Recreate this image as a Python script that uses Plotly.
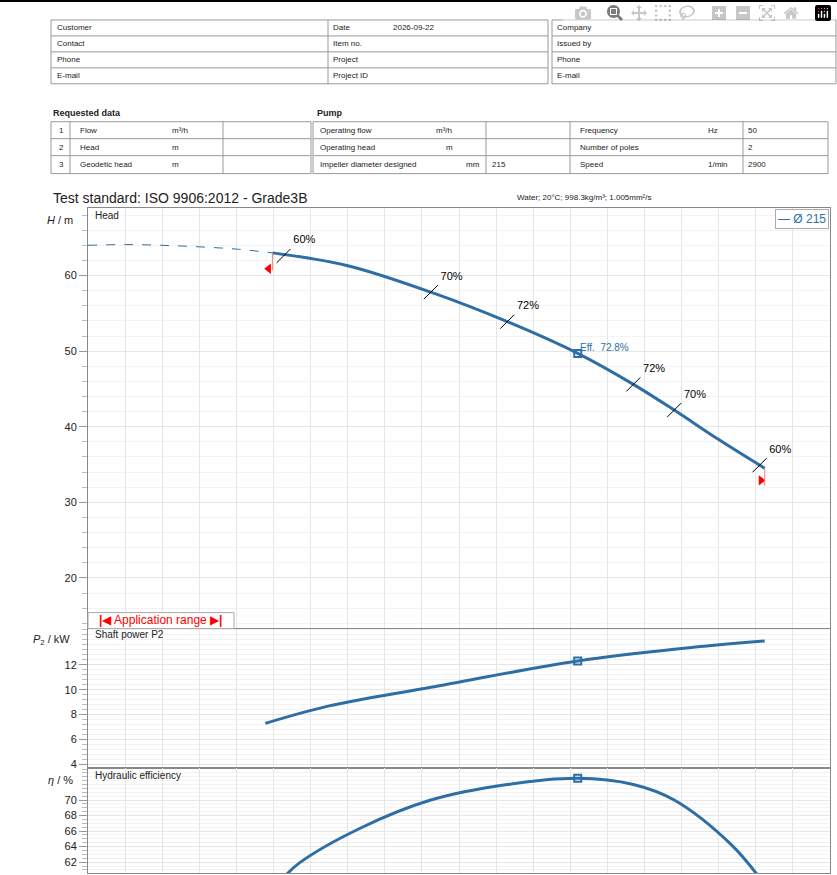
import plotly.graph_objects as go

W, H = 837, 875
BLUE = "#2f6ea5"
GRID = "#e6e6e6"

# curve data (flow in chart units)
flow_head_ext = [0, 1, 2, 3, 4, 4.97]
head_ext = [64.0, 64.1, 64.0, 63.8, 63.5, 63.0]
flow_head = [4.97, 7, 9.24, 11.3, 13.2, 14.7, 15.8, 17, 18.24]
head = [63.0, 61.3, 57.8, 53.9, 49.7, 45.6, 42.2, 38.3, 34.5]
flow_power = [4.78, 6.5, 9.24, 13.2, 16, 18.24]
power = [7.3, 8.7, 10.2, 12.3, 13.3, 13.9]
flow_eff = [5.27, 5.7, 7.35, 9.24, 11.3, 13.2, 14.7, 15.8, 17.35, 18.1]
eff = [60.0, 61.9, 66.4, 70.0, 72.0, 72.8, 72.0, 70.0, 64.2, 60.0]
mark_flow = [5.27, 9.24, 11.3, 14.7, 15.8, 18.1]
mark_head = [62.6, 57.8, 53.9, 45.6, 42.2, 34.9]
mark_labels = ["60%", "70%", "72%", "72%", "70%", "60%"]
bep_flow, bep_head, bep_power, bep_eff = 13.2, 49.7, 12.3, 72.8
range_ends = [(4.97, 63.0), (18.24, 34.5)]
head_ticks = [20, 30, 40, 50, 60]
power_ticks = [4, 6, 8, 10, 12]
eff_ticks = [62, 64, 66, 68, 70]

def px(x):
    return x / W

def py(y):
    return 1 - y / H

fig = go.Figure()

bep_marker = dict(symbol="square-open", size=7, color=BLUE, line=dict(color=BLUE, width=2))
fig.add_trace(go.Scatter(x=flow_head_ext, y=head_ext, mode="lines", line=dict(color=BLUE, width=1, dash="dash", shape="spline"), xaxis="x", yaxis="y"))
fig.add_trace(go.Scatter(x=flow_head, y=head, mode="lines", line=dict(color=BLUE, width=3, shape="spline"), xaxis="x", yaxis="y"))
fig.add_trace(go.Scatter(x=mark_flow, y=mark_head, mode="markers+text", text=mark_labels, textposition="top right",
                         textfont=dict(size=11, color="black"),
                         marker=dict(symbol="line-ne", size=14, line=dict(color="black", width=1)), xaxis="x", yaxis="y"))
fig.add_trace(go.Scatter(x=[bep_flow], y=[bep_head], mode="markers", marker=bep_marker, xaxis="x", yaxis="y"))
fig.add_trace(go.Scatter(x=[range_ends[0][0] - 0.1, range_ends[1][0] - 0.1], y=[60.9, 32.9], mode="markers",
                         marker=dict(symbol=["triangle-left", "triangle-right"], size=9, color="red"), xaxis="x", yaxis="y"))
for fx, fy in range_ends:
    fig.add_trace(go.Scatter(x=[fx, fx], y=[fy, fy - 2.3], mode="lines", line=dict(color="#f08080", width=1), xaxis="x", yaxis="y"))

fig.add_trace(go.Scatter(x=flow_power, y=power, mode="lines", line=dict(color=BLUE, width=3, shape="spline"), xaxis="x2", yaxis="y2"))
fig.add_trace(go.Scatter(x=[bep_flow], y=[bep_power], mode="markers", marker=bep_marker, xaxis="x2", yaxis="y2"))
fig.add_trace(go.Scatter(x=flow_eff, y=eff, mode="lines", line=dict(color=BLUE, width=3, shape="spline"), xaxis="x3", yaxis="y3"))
fig.add_trace(go.Scatter(x=[bep_flow], y=[bep_eff], mode="markers", marker=bep_marker, xaxis="x3", yaxis="y3"))

xdom = [px(88), px(830)]
xax = dict(range=[0, 20], domain=xdom, dtick=1, showticklabels=False, showgrid=True, gridcolor=GRID,
           showline=True, linecolor="#888", mirror=True, zeroline=False, ticks="")
def yax(rng, dom, vals, minor):
    return dict(range=rng, domain=dom, tickmode="array", tickvals=vals, showgrid=True, gridcolor=GRID, zeroline=False,
                showline=True, linecolor="#888", mirror=True, ticks="outside", ticklen=8, tickcolor="#999",
                tickfont=dict(size=11, color="#222"),
                minor=dict(dtick=minor, ticks="outside", ticklen=5, tickcolor="#bbb", showgrid=True, gridcolor="#f3f3f3"))

fig.update_layout(
    width=W, height=H, margin=dict(l=0, r=0, t=0, b=0), showlegend=False,
    plot_bgcolor="white", paper_bgcolor="white", font=dict(family="Liberation Sans, Arial", color="#222"),
    xaxis=dict(xax, anchor="y"), xaxis2=dict(xax, anchor="y2"), xaxis3=dict(xax, anchor="y3"),
    yaxis=dict(yax([13.3, 69], [py(630), py(208)], head_ticks, 2), anchor="x"),
    yaxis2=dict(yax([3.7, 14.9], [py(770), py(630)], power_ticks, 0.4), anchor="x2"),
    yaxis3=dict(yax([60.6, 74.1], [0, py(770)], eff_ticks, 0.5), anchor="x3"),
)

shapes = []
ann = []

def line(x0, y0, x1, y1, color="#999", width=1):
    shapes.append(dict(type="line", xref="paper", yref="paper", x0=px(x0), y0=py(y0), x1=px(x1), y1=py(y1), line=dict(color=color, width=width)))

def text(x, y, t, size=8, **kw):
    ann.append(dict(xref="paper", yref="paper", x=px(x), y=py(y), text=t, showarrow=False, xanchor=kw.pop("xanchor", "left"),
                    yanchor=kw.pop("yanchor", "middle"), font=dict(size=size, color=kw.pop("color", "#222")), **kw))

def grid(cols, rows):
    for r in rows:
        line(cols[0], r, cols[-1], r)
    for c in cols:
        line(c, rows[0], c, rows[-1])

line(0, 1, W, 1, "black", 2)
rows1 = [20, 36, 52, 68, 84]
grid([51, 328, 548], rows1)
grid([552, 836], rows1)
for i, (a, b, c) in enumerate([("Customer", "Date", "Company"), ("Contact", "Item no.", "Issued by"),
                               ("Phone", "Project", "Phone"), ("E-mail", "Project ID", "E-mail")]):
    yc = (rows1[i] + rows1[i + 1]) / 2
    text(55, yc, a); text(331, yc, b); text(555, yc, c)
text(391, 28, "2026-09-22")

text(51, 113, "<b>Requested data</b>", 9)
text(315, 113, "<b>Pump</b>", 9)
rows2 = [122, 139, 156, 174]
grid([51, 70, 223, 311], rows2)
grid([313, 486, 570, 743, 828], rows2)
req = [("1", "Flow", "m³/h"), ("2", "Head", "m"), ("3", "Geodetic head", "m")]
pump = [("Operating flow", "m³/h", "", "Frequency", "Hz", "50"),
        ("Operating head", "m", "", "Number of poles", "", "2"),
        ("Impeller diameter designed", "mm", "215", "Speed", "1/min", "2900")]
for i in range(3):
    yc = (rows2[i] + rows2[i + 1]) / 2
    text(66, yc, req[i][0], xanchor="right"); text(78, yc, req[i][1]); text(170, yc, req[i][2])
    p = pump[i]
    text(318, yc, p[0])
    if i == 2:
        text(482, yc, p[1], xanchor="right")
    else:
        text(434 if i == 0 else 444, yc, p[1])
    text(490, yc, p[2]); text(578, yc, p[3]); text(706, yc, p[4]); text(746, yc, p[5])

text(51, 198, "Test standard: ISO 9906:2012 - Grade3B", 14)
text(515, 198, "Water; 20°C; 998.3kg/m³; 1.005mm²/s", 8)

text(75, 221, "<i>H</i> / m", 11, xanchor="right")
text(72, 641, "<i>P</i><sub>2</sub> / kW", 11, xanchor="right")
text(75, 782, "<i>η</i> / %", 11, xanchor="right")
text(93, 216, "Head", 10)
text(93, 636, "Shaft power P2", 10)
text(93, 777, "Hydraulic efficiency", 10)
text(578, 348, "Eff.  72.8%", 10, color=BLUE)
ann.append(dict(xref="paper", yref="paper", x=px(829), y=py(209), text="— Ø 215", showarrow=False, xanchor="right", yanchor="top",
                font=dict(size=12, color=BLUE), bordercolor="#aaa", borderwidth=1, bgcolor="white", borderpad=2))
shapes.append(dict(type="rect", xref="paper", yref="paper", x0=px(88), x1=px(234), y0=py(630), y1=py(614), line=dict(color="#aaa", width=1), fillcolor="white"))
text(160, 621, "<b>|</b>◀ Application range ▶<b>|</b>", 12, xanchor="center", color="red")

fig.update_layout(shapes=shapes, annotations=ann)
fig.write_html("out.html", post_script="document.body.style.margin='0';document.body.style.overflow='hidden';")
